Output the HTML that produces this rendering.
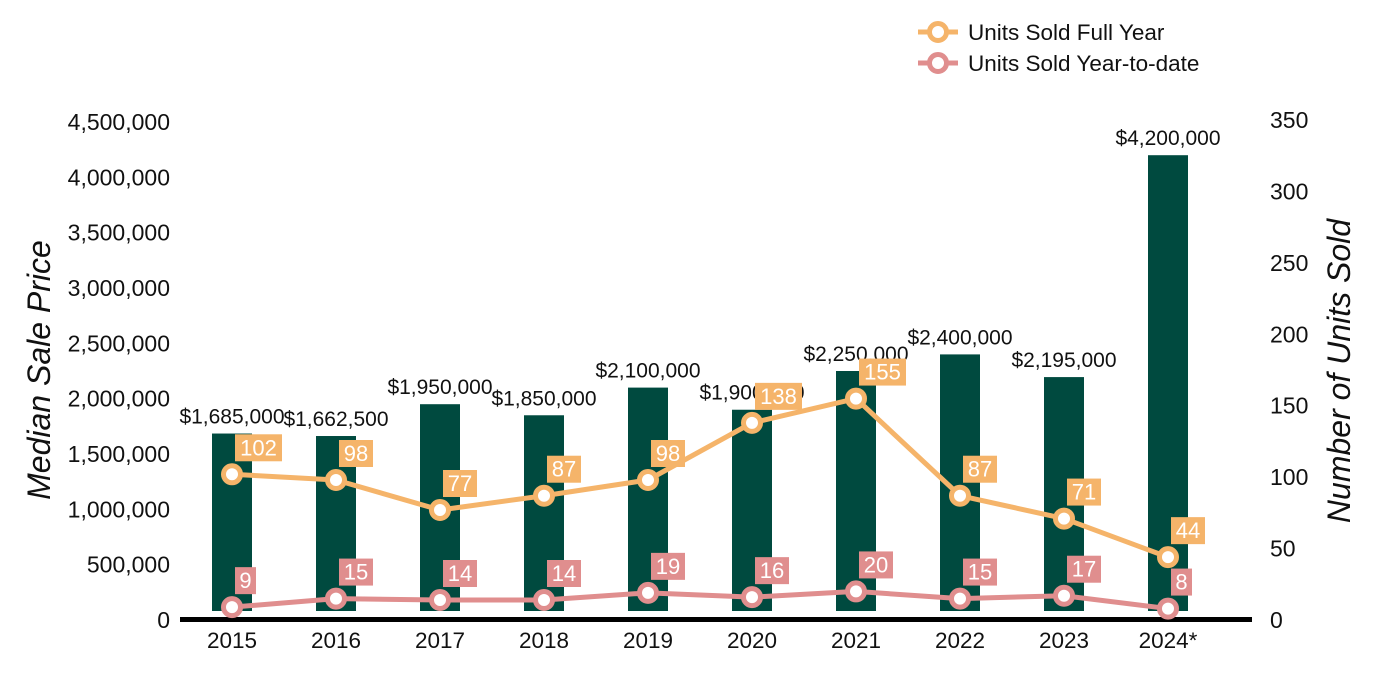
<!DOCTYPE html>
<html><head><meta charset="utf-8"><style>
body{margin:0;background:#fff;}
svg{display:block;font-family:"Liberation Sans",Arial,sans-serif;}
</style></head><body>
<svg id="c" width="1400" height="700"></svg>
<script>
const years=["2015","2016","2017","2018","2019","2020","2021","2022","2023","2024*"];
const prices=[1685000,1662500,1950000,1850000,2100000,1900000,2250000,2400000,2195000,4200000];
const priceLabels=["$1,685,000","$1,662,500","$1,950,000","$1,850,000","$2,100,000","$1,900,000","$2,250,000","$2,400,000","$2,195,000","$4,200,000"];
const fullYear=[102,98,77,87,98,138,155,87,71,44];
const ytd=[9,15,14,14,19,16,20,15,17,8];
const leftTicks=[0,500000,1000000,1500000,2000000,2500000,3000000,3500000,4000000,4500000];
const rightTicks=[0,50,100,150,200,250,300,350];
const NS="http://www.w3.org/2000/svg";
const svg=document.getElementById('c');
function mk(t,a,txt){const e=document.createElementNS(NS,t);for(const k in a)e.setAttribute(k,a[k]);if(txt!==undefined)e.textContent=txt;svg.appendChild(e);return e;}
const base=620;
const yL=v=>base-v/4500000*498;
const yR=v=>base-v/350*500;
const xC=i=>232+i*104;
const fmt=v=>v.toLocaleString('en-US');
leftTicks.forEach(v=>{const t=mk('text',{x:170,y:yL(v)+8,'text-anchor':'end','font-size':23,fill:'#111'},fmt(v));

});
rightTicks.forEach(v=>{const t=mk('text',{x:1270,y:yR(v)+8,'font-size':23,fill:'#111'},v);

});
let t=mk('text',{transform:'translate(50,370) rotate(-90)','text-anchor':'middle','font-size':32,'font-style':'italic',fill:'#111'},'Median Sale Price');

t=mk('text',{transform:'translate(1350,371) rotate(-90)','text-anchor':'middle','font-size':32,'font-style':'italic',fill:'#111'},'Number of Units Sold');

prices.forEach((v,i)=>{const y=yL(v);
const b=mk('rect',{x:xC(i)-20,y:y,width:40,height:611-y,fill:'#004a3f'});


const l=mk('text',{x:xC(i),y:y-10,'text-anchor':'middle','font-size':21,fill:'#111'},priceLabels[i]);

});
const ax=mk('rect',{x:180,y:617,width:1072,height:5,fill:'#000'});

years.forEach((y,i)=>{const e=mk('text',{x:xC(i),y:648,'text-anchor':'middle','font-size':22.5,fill:'#111'},y);

});
function series(vals,color,name){
const pts=vals.map((v,i)=>xC(i)+','+yR(v)).join(' ');
const p=mk('polyline',{points:pts,fill:'none',stroke:color,'stroke-width':5,'stroke-linejoin':'round'});


vals.forEach((v,i)=>{const cx=xC(i),cy=yR(v);
const c=mk('circle',{cx:cx,cy:cy,r:8.5,fill:'#fff',stroke:color,'stroke-width':5});


const s=String(v);const w=s.length*13+8;
const r=mk('rect',{x:cx+3,y:cy-40,width:w,height:27,fill:color});


const tx=mk('text',{x:cx+3+w/2,y:cy-19,'text-anchor':'middle','font-size':22,fill:'#fff'},s);

});}
series(fullYear,'#f5b46a','full-year');
series(ytd,'#e08e8e','ytd');
function legend(y,color,label,name){
const l=mk('line',{x1:918,y1:y,x2:958,y2:y,stroke:color,'stroke-width':5});

const c=mk('circle',{cx:938,cy:y,r:8.5,fill:'#fff',stroke:color,'stroke-width':5});

const t=mk('text',{x:968,y:y+8,'font-size':22.5,fill:'#111'},label);
}
legend(32,'#f5b46a','Units Sold Full Year','full-year');
legend(63,'#e08e8e','Units Sold Year-to-date','ytd');
</script>
</body></html>
